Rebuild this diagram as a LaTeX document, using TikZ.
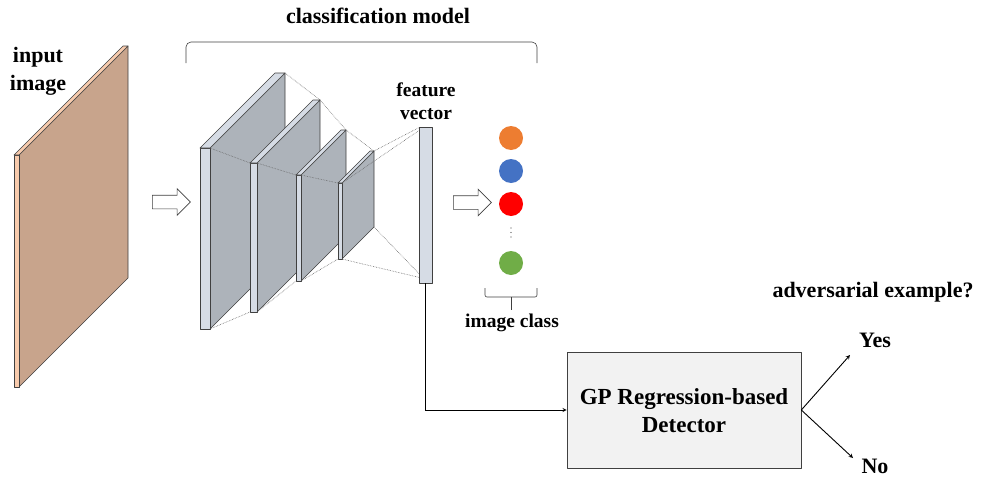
\documentclass[tikz,border=0pt]{standalone}
\usepackage{fontspec}
\setmainfont{Liberation Serif}
\usetikzlibrary{shapes.arrows}
\definecolor{brun}{HTML}{C8A48C}
\definecolor{peche}{HTML}{F8CBAD}
\definecolor{gris}{HTML}{ADB3BA}
\definecolor{grisclair}{HTML}{D6DCE5}
\definecolor{fond}{HTML}{F2F2F2}
\definecolor{trait}{HTML}{404040}
\definecolor{orange}{HTML}{ED7D31}
\definecolor{bleu}{HTML}{4472C4}
\definecolor{rouge}{HTML}{FF0000}
\definecolor{vert}{HTML}{70AD47}

% couche : nom, x, y, largeur, hauteur, epaisseur, face, tranche
\newcommand{\couche}[8]{
	\coordinate (#1-tl) at (#2, #3);
	\coordinate (#1-tr) at ({#2+#4}, {#3-#4});
	\coordinate (#1-bl) at (#2, {#3+#5});
	\coordinate (#1-br) at ({#2+#4}, {#3-#4+#5});
	\coordinate (#1-btl) at ({#2-#6}, #3);
	\coordinate (#1-bbl) at ({#2-#6}, {#3+#5});
	\coordinate (#1-btr) at ({#2+#4-#6}, {#3-#4});
	\draw[plaque, fill=#7] (#1-tl) -- (#1-tr) -- (#1-br) -- (#1-bl) -- cycle;
	\draw[plaque, fill=#8] (#1-bbl) -- (#1-btl) -- (#1-tl) -- (#1-bl) -- cycle;
	\draw[plaque, fill=#8] (#1-btl) -- (#1-btr) -- (#1-tr) -- (#1-tl) -- cycle;
}

\begin{document}
\begin{tikzpicture}[x=1pt, y=-1pt,
	plaque/.style={draw=trait, line width=0.6pt, line join=round},
	lien/.style={densely dotted, black!60, line width=0.6pt},
	texte/.style={font=\fontsize{22}{28}\selectfont\bfseries, align=center, inner sep=0pt},
	petit/.style={font=\fontsize{19.5}{23}\selectfont\bfseries, align=center, inner sep=0pt},
	fleche/.style={single arrow, draw=trait, fill=white, line width=0.6pt, minimum height=38pt, single arrow head extend=6.5pt, inner xsep=0pt, inner ysep=6.5pt},
	classe/.style={circle, minimum size=24pt, inner sep=0pt}]
	\useasboundingbox (0, 0) rectangle (981, 479);
	% image d'entree
	\couche{entree}{19}{155}{109}{232}{5}{brun}{peche}
	\node[texte] (entreetxt) at (38, 71) {input\\image};
	\node[fleche] (f1) at (168, 202) {};
	% modele de classification
	\couche{c1}{210}{148}{75}{181}{10}{gris}{grisclair}
	\couche{c2}{257}{163}{63}{149}{7}{gris}{grisclair}
	\couche{c3}{301}{175}{45}{106}{5}{gris}{grisclair}
	\couche{c4}{342}{183}{32}{76}{4}{gris}{grisclair}
	\node[plaque, fill=grisclair, minimum width=13pt, minimum height=156pt, inner sep=0pt] (fv) at (425.5, 205) {};
	\foreach \a/\b in {c1/c2, c2/c3, c3/c4} {
		\draw[lien] (\a-tr) -- (\b-tr);
		\draw[lien] (\a-tl) -- (\b-btl);
		\draw[lien] (\a-bl) -- (\b-bbl);
	}
	\draw[lien] (c4-tr) -- ([yshift=-1pt]fv.north west);
	\draw[lien] (c4-tl) -- ([yshift=-4pt]fv.north west);
	\draw[lien] (c4-br) -- ([yshift=10pt]fv.south west);
	\draw[lien] (c4-bl) -- ([yshift=6pt]fv.south west);
	\node[petit] (fvtxt) at (426, 101) {feature\\vector};
	\draw[trait, line width=0.6pt, rounded corners=5pt] (186, 63) -- (186, 42) -- (537, 42) -- (537, 63);
	\node[texte] (modele) at (378, 16) {classification model};
	% classes
	\node[fleche] (f2) at (469, 202.5) {};
	\node[classe, fill=orange] (k1) at (511, 138) {};
	\node[classe, fill=bleu] (k2) at (511, 171) {};
	\node[classe, fill=rouge] (k3) at (511, 204) {};
	\node[classe, fill=vert] (k4) at (511, 263) {};
	\foreach \y in {228, 232.5, 237} \fill[trait] (511, \y) circle (0.7);
	\draw[trait, line width=0.6pt, rounded corners=2pt] (485, 288) -- (485, 297) -- (537, 297) -- (537, 288);
	\draw[trait, line width=0.6pt] (511, 297) -- (511, 310);
	\node[petit] (classetxt) at (512, 323) {image class};
	% detecteur
	\node[plaque, fill=fond, minimum width=234pt, minimum height=116pt, inner sep=0pt] (det) at (684, 410) {};
	\node[font=\fontsize{23}{28}\selectfont\bfseries, align=center] (dettxt) at (684, 411) {GP Regression-based\\Detector};
	\draw[>=stealth, ->, line width=0.9pt] (fv.south) |- (det.west);
	\node[texte] (question) at (873, 292) {adversarial example?};
	\node[texte] (oui) at (875, 340) {Yes};
	\node[texte] (non) at (875, 466) {No};
	\coordinate (ouibout) at (850, 355);
	\coordinate (nonbout) at (853, 458);
	\draw[>=stealth, ->, line width=0.9pt] (det.east) -- (ouibout);
	\draw[>=stealth, ->, line width=0.9pt] (det.east) -- (nonbout);
\end{tikzpicture}
\end{document}
